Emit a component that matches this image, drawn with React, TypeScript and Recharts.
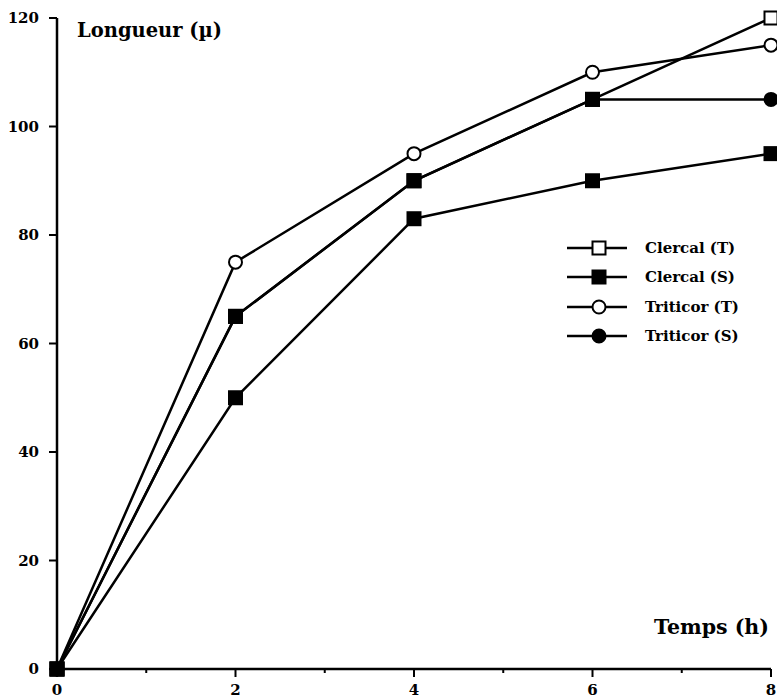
import { LineChart, Line, XAxis, YAxis, Legend } from "recharts";

// Temps (h)
const hours = [0, 2, 4, 6, 8];
// Longueur (µ)
const clercalT = [0, 65, 90, 105, 120];
const clercalS = [0, 50, 83, 90, 95];
const triticorT = [0, 75, 95, 110, 115];
const triticorS = [0, 65, 90, 105, 105];

const xTicks = [0, 1, 2, 3, 4, 5, 6, 7, 8];
const yTicks = [0, 20, 40, 60, 80, 100, 120];

const seriesNames = ["Clercal (T)", "Clercal (S)", "Triticor (T)", "Triticor (S)"];

const data = hours.map((h, i) => ({
  h,
  clercalT: clercalT[i],
  clercalS: clercalS[i],
  triticorT: triticorT[i],
  triticorS: triticorS[i],
}));

const FONT = "'DejaVu Serif', serif";
const SQ = 13;
const R = 6.5;

function square(cx: number, cy: number, filled: boolean, key: any) {
  return (
    <rect
      key={key}
      x={cx - SQ / 2}
      y={cy - SQ / 2}
      width={SQ}
      height={SQ}
      fill={filled ? "#000" : "#fff"}
      stroke="#000"
      strokeWidth={2}
    />
  );
}

function circle(cx: number, cy: number, filled: boolean, key: any) {
  return (
    <circle
      key={key}
      cx={cx}
      cy={cy}
      r={R}
      fill={filled ? "#000" : "#fff"}
      stroke="#000"
      strokeWidth={2}
    />
  );
}

// the two middle series share their points up to 6 h; the original shows filled squares there
const shared = (i: number) => clercalT[i] === triticorS[i];

const XTick = (props: any) => {
  const { x, y, payload } = props;
  const major = payload.value % 2 === 0;
  return (
    <g>
      <line x1={x} x2={x} y1={y} y2={y + (major ? 8 : 4)} stroke="#000" strokeWidth={2} />
      {major && (
        <text x={x} y={y + 26} textAnchor="middle" fontFamily={FONT} fontWeight="bold" fontSize={15}>
          {payload.value}
        </text>
      )}
    </g>
  );
};

const YTick = (props: any) => {
  const { x, y, payload } = props;
  return (
    <g>
      <line x1={x - 8} x2={x} y1={y} y2={y} stroke="#000" strokeWidth={2} />
      <text x={x - 18} y={y + 5} textAnchor="end" fontFamily={FONT} fontWeight="bold" fontSize={15}>
        {payload.value}
      </text>
    </g>
  );
};

const markers = [
  (cx: number, cy: number) => square(cx, cy, false, "m"),
  (cx: number, cy: number) => square(cx, cy, true, "m"),
  (cx: number, cy: number) => circle(cx, cy, false, "m"),
  (cx: number, cy: number) => circle(cx, cy, true, "m"),
];

const renderLegend = () => (
  <div>
    {seriesNames.map((name, i) => (
      <div key={name} style={{ display: "flex", alignItems: "center", height: 29.5 }}>
        <svg width={64} height={20}>
          <line x1={2} x2={62} y1={10} y2={10} stroke="#000" strokeWidth={2.5} />
          {markers[i](34, 10)}
        </svg>
        <span
          style={{
            fontFamily: FONT,
            fontWeight: "bold",
            fontSize: 15,
            marginLeft: 16,
            whiteSpace: "nowrap",
          }}
        >
          {name}
        </span>
      </div>
    ))}
  </div>
);

export default function App() {
  return (
    <div style={{ position: "absolute", left: 0, top: 0, width: 777, height: 700, background: "#fff" }}>
      <LineChart width={777} height={700} data={data} margin={{ top: 18, right: 6, bottom: 0, left: 0 }}>
        <XAxis
          dataKey="h"
          type="number"
          domain={[0, 8]}
          ticks={xTicks}
          interval={0}
          height={31}
          tickSize={0}
          tickMargin={0}
          tick={<XTick />}
          axisLine={{ stroke: "#000", strokeWidth: 2.5 }}
          tickLine={false}
        />
        <YAxis
          type="number"
          domain={[0, 120]}
          ticks={yTicks}
          interval={0}
          width={57}
          tickSize={0}
          tickMargin={0}
          tick={<YTick />}
          axisLine={{ stroke: "#000", strokeWidth: 2.5 }}
          tickLine={false}
        />
        <Legend
          layout="vertical"
          align="center"
          verticalAlign="middle"
          content={renderLegend}
          wrapperStyle={{ position: "absolute", left: 565, top: 233, width: 212 }}
        />
        <Line
          dataKey="triticorT"
          stroke="#000"
          strokeWidth={2.5}
          isAnimationActive={false}
          dot={(p: any) => circle(p.cx, p.cy, false, `tt${p.index}`)}
        />
        <Line
          dataKey="clercalT"
          stroke="#000"
          strokeWidth={2.5}
          isAnimationActive={false}
          dot={(p: any) => square(p.cx, p.cy, shared(p.index), `ct${p.index}`)}
        />
        <Line
          dataKey="triticorS"
          stroke="#000"
          strokeWidth={2.5}
          isAnimationActive={false}
          dot={(p: any) =>
            shared(p.index)
              ? square(p.cx, p.cy, true, `ts${p.index}`)
              : circle(p.cx, p.cy, true, `ts${p.index}`)
          }
        />
        <Line
          dataKey="clercalS"
          stroke="#000"
          strokeWidth={2.5}
          isAnimationActive={false}
          dot={(p: any) => square(p.cx, p.cy, true, `cs${p.index}`)}
        />
      </LineChart>
      <div
        style={{
          position: "absolute",
          left: 77,
          top: 19,
          fontFamily: FONT,
          fontWeight: "bold",
          fontSize: 19.5,
        }}
      >
        Longueur (µ)
      </div>
      <div
        style={{
          position: "absolute",
          left: 654,
          top: 615,
          fontFamily: FONT,
          fontWeight: "bold",
          fontSize: 20.5,
        }}
      >
        Temps (h)
      </div>
    </div>
  );
}
